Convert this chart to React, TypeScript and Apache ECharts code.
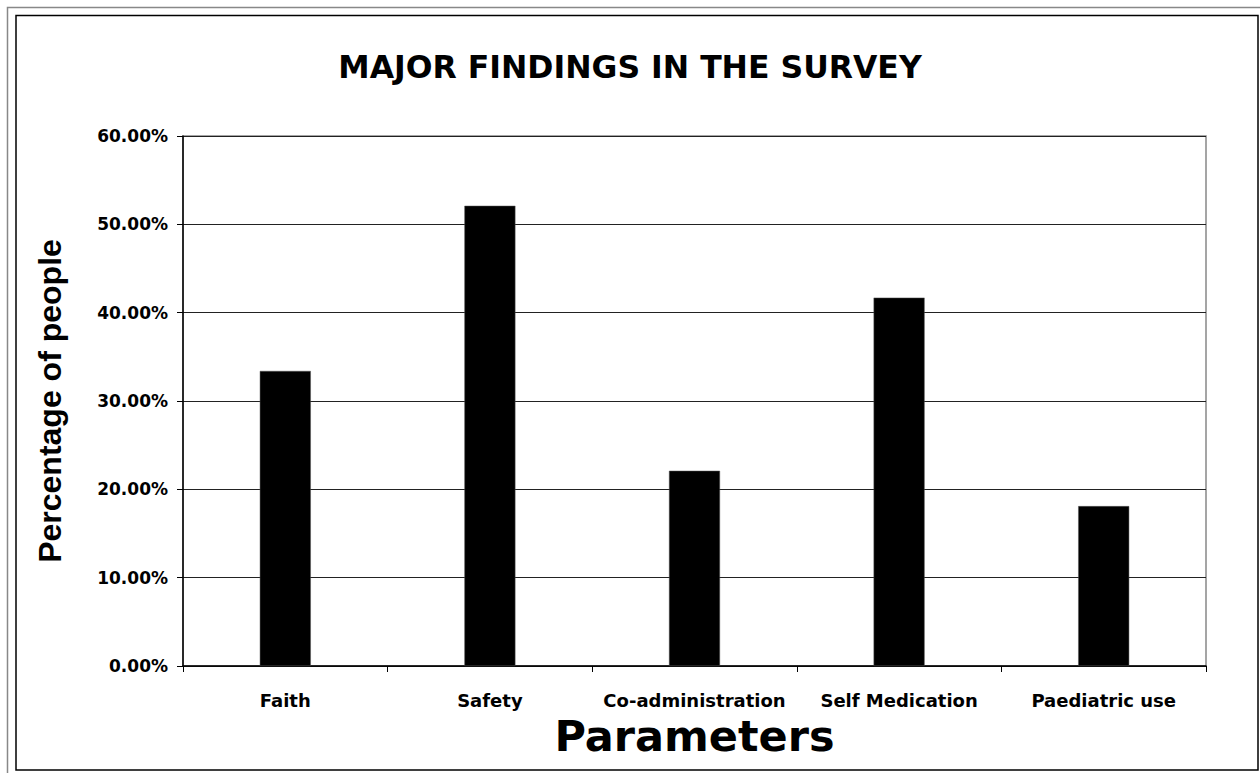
import React, { useEffect, useRef } from "react";
import * as echarts from "echarts";

const categories = ["Faith", "Safety", "Co-administration", "Self Medication", "Paediatric use"];
const percentages = [33.4, 52.1, 22.1, 41.7, 18.1];
const yTicks = [0, 10, 20, 30, 40, 50, 60];

const TITLE = "MAJOR FINDINGS IN THE SURVEY";
const Y_NAME = "Percentage of people";
const X_NAME = "Parameters";

export default function App() {
  const ref = useRef<HTMLDivElement>(null);
  useEffect(() => {
    document.body.style.margin = "0";
    const chart = echarts.init(ref.current!, null, { renderer: "svg" });
    const bold = { fontWeight: "bold" as const, color: "#000", fontFamily: "DejaVu Sans" };
    chart.setOption({
      animation: false,
      backgroundColor: "#fff",
      title: {
        text: TITLE,
        left: "center",
        top: 46,
        textStyle: { ...bold, fontSize: 31.5 },
      },
      graphic: [
        {
          type: "polyline",
          shape: { points: [[7.5, 773], [7.5, 7.5], [1260, 7.5]] },
          style: { stroke: "#888", lineWidth: 1.5, fill: "none" },
        },
        {
          type: "rect",
          shape: { x: 16, y: 15.5, width: 1242, height: 754.5 },
          style: { stroke: "#000", lineWidth: 1.5, fill: "none" },
        },
      ],
      grid: {
        left: 183,
        right: 54,
        top: 136,
        bottom: 107,
        show: true,
        borderColor: "#888",
        borderWidth: 1.5,
        backgroundColor: "transparent",
      },
      xAxis: {
        type: "category",
        data: categories,
        name: X_NAME,
        nameLocation: "middle",
        nameGap: 48,
        nameTextStyle: { ...bold, fontSize: 43 },
        axisLine: { lineStyle: { color: "#000", width: 1.5 } },
        axisTick: { show: true, length: 6, lineStyle: { color: "#000" } },
        axisLabel: { ...bold, fontSize: 18, margin: 25, interval: 0 },
        splitLine: { show: false },
      },
      yAxis: {
        type: "value",
        min: 0,
        max: 60,
        interval: 10,
        name: Y_NAME,
        nameLocation: "middle",
        nameGap: 117,
        nameRotate: 90,
        nameTextStyle: { fontWeight: "bold", color: "#000", fontFamily: "Liberation Sans", fontSize: 32 },
        axisLine: { show: true, lineStyle: { color: "#000", width: 1.5 } },
        axisTick: { show: true, length: 6, lineStyle: { color: "#000" } },
        axisLabel: {
          ...bold,
          fontSize: 17,
          margin: 15,
          formatter: (v: number) => (yTicks.includes(v) ? v.toFixed(2) + "%" : ""),
        },
        splitLine: { show: true, lineStyle: { color: "#222", width: 1 } },
      },
      series: [
        {
          type: "bar",
          data: percentages,
          barWidth: 51,
          itemStyle: { color: "#000", borderColor: "#555", borderWidth: 0.5 },
        },
      ],
    });
    return () => chart.dispose();
  }, []);
  return <div ref={ref} style={{ width: 1260, height: 773 }} />;
}
